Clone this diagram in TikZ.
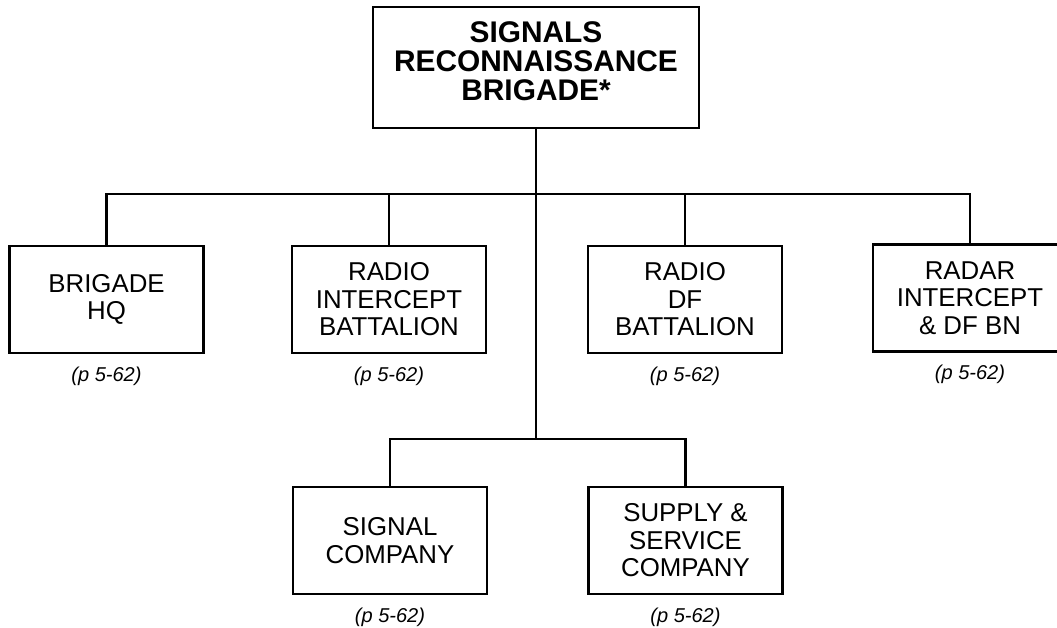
\documentclass[tikz,border=0pt]{standalone}
\usepackage{fontspec}
\setmainfont{Liberation Sans}
\usepackage{tikz}
\usetikzlibrary{positioning,calc}

\begin{document}
\begin{tikzpicture}[
    x=0.02cm, y=-0.02cm,
    topbox/.style={rectangle, draw=black, line width=1.5pt, align=center, minimum width=6.52cm, minimum height=2.42cm, inner sep=0pt, font=\bfseries\fontsize{17}{16.5}\selectfont},
    unitbox/.style={rectangle, draw=black, line width=1.5pt, align=center, minimum width=3.88cm, minimum height=2.14cm, inner sep=0pt, font=\fontsize{14.7}{15.6}\selectfont},
    reflabel/.style={below=0.12cm of #1, font=\itshape\fontsize{11.4}{13}\selectfont},
    conn/.style={line width=1.5pt, draw=black}
]
    \useasboundingbox (0,0) rectangle (1057,628);

    \node [topbox] (brigade) at (536,67.5) {SIGNALS\\RECONNAISSANCE\\BRIGADE*\rule[-7pt]{0pt}{1pt}};

    \node [unitbox] (hq) at (106.5,299.5) {BRIGADE\\HQ};
    \node [unitbox] (radint) at (389,299.5) {RADIO\\INTERCEPT\\BATTALION};
    \node [unitbox] (raddf) at (685,299.5) {RADIO\\DF\\BATTALION};
    \node [unitbox] (radar) at (970,298) {RADAR\\INTERCEPT\\\& DF BN};
    \node [unitbox] (sig) at (390,540.5) {SIGNAL\\COMPANY};
    \node [unitbox] (sup) at (685.5,540.5) {SUPPLY \&\\SERVICE\\COMPANY};

    \node [reflabel=hq] (hqref) {(p 5-62)};
    \node [reflabel=radint] (radintref) {(p 5-62)};
    \node [reflabel=raddf] (raddfref) {(p 5-62)};
    \node [reflabel=radar] (radarref) {(p 5-62)};
    \node [reflabel=sig] (sigref) {(p 5-62)};
    \node [reflabel=sup] (supref) {(p 5-62)};

    \coordinate (bus1) at (536,194);
    \coordinate (bus2) at (536,439);

    \draw [conn] (brigade.south) -- (bus2);
    \draw [conn] (hq.north) |- (bus1) -| (radar.north);
    \draw [conn] (radint.north) -- (radint.north |- bus1);
    \draw [conn] (raddf.north) -- (raddf.north |- bus1);
    \draw [conn] (sig.north) |- (bus2) -| (sup.north);
\end{tikzpicture}
\end{document}
